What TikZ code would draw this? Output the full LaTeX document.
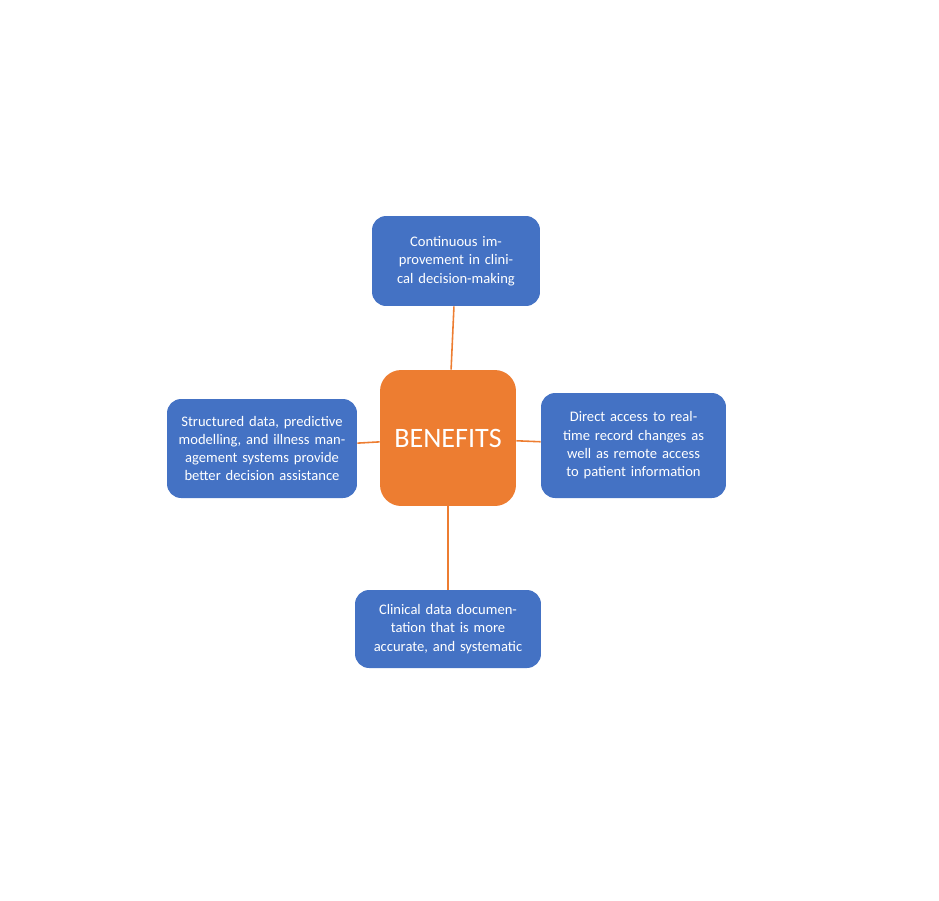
\documentclass[tikz,border=0pt]{standalone}
\usepackage{fontspec}
\setmainfont{Carlito}
\usetikzlibrary{positioning}
\definecolor{boxblue}{HTML}{4472C4}
\definecolor{boxorange}{HTML}{ED7D31}
\begin{document}
\begin{tikzpicture}[x=0.02cm,y=-0.02cm,
            every node/.style = {rounded corners=8pt, text=white, align=center, inner sep=2pt},
            benefit/.style = {fill=boxblue, font=\fontsize{8.3}{10.4}\selectfont},
            link/.style = {draw=boxorange, line width=0.9pt}
            ]
            \useasboundingbox (0,0) rectangle (939,900);
            \node[fill=boxorange, minimum width=2.72cm, minimum height=2.72cm,
                  rounded corners=12pt, font=\fontsize{16}{18}\selectfont] (ben) at (448,438) {BENEFITS};
            \node[benefit, minimum width=3.36cm, minimum height=1.8cm, text width=2.4cm] (top) at (456,261)
                {Continuous improvement in clinical decision-making};
            \node[benefit, minimum width=3.7cm, minimum height=2.1cm, text width=3.4cm] (right) at (633.5,445.5)
                {Direct access to real-time record changes as well as remote access to patient information};
            \node[benefit, minimum width=3.8cm, minimum height=1.98cm, text width=3.4cm] (left) at (262,448.5)
                {Structured data, predictive modelling, and illness management systems provide better decision assistance};
            \node[benefit, minimum width=3.72cm, minimum height=1.56cm, text width=3.0cm] (bottom) at (448,629)
                {Clinical data documentation that is more accurate, and systematic};
            \draw[link] (ben) -- (top);
            \draw[link] (ben) -- (right);
            \draw[link] (ben) -- (left);
            \draw[link] (ben) -- (bottom);
\end{tikzpicture}
\end{document}
